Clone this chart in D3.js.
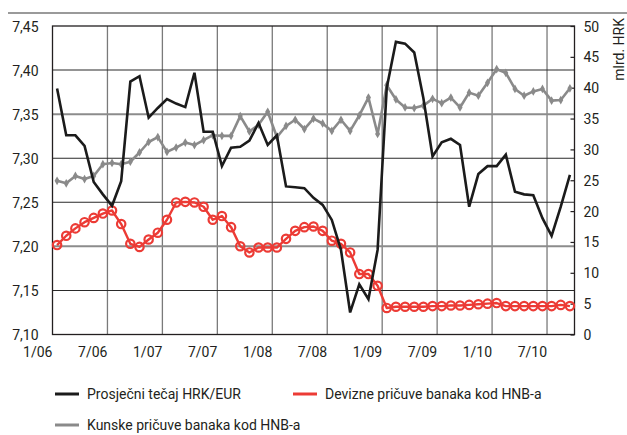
<!DOCTYPE html>
<html>
<head>
<meta charset="utf-8">
<script src="https://cdn.jsdelivr.net/npm/d3@7"></script>
<style>
  html, body { margin: 0; padding: 0; background: #fff; }
  svg { display: block; }
  text { font-family: "Roboto", "Liberation Sans", sans-serif; fill: #231f20; }
</style>
</head>
<body>
<svg id="chart" width="627" height="435"></svg>
<script>
// ---- data ----
const months = [
  "1/06","2/06","3/06","4/06","5/06","6/06","7/06","8/06","9/06","10/06","11/06","12/06",
  "1/07","2/07","3/07","4/07","5/07","6/07","7/07","8/07","9/07","10/07","11/07","12/07",
  "1/08","2/08","3/08","4/08","5/08","6/08","7/08","8/08","9/08","10/08","11/08","12/08",
  "1/09","2/09","3/09","4/09","5/09","6/09","7/09","8/09","9/09","10/09","11/09","12/09",
  "1/10","2/10","3/10","4/10","5/10","6/10","7/10","8/10","9/10"
];
const tickLabels = ["1/06","7/06","1/07","7/07","1/08","7/08","1/09","7/09","1/10","7/10"];
const leftTicks = [7.10, 7.15, 7.20, 7.25, 7.30, 7.35, 7.40, 7.45];
const rightTicks = [0, 5, 10, 15, 20, 25, 30, 35, 40, 45, 50];

// Prosječni tečaj HRK/EUR (left axis)
const tecaj = [
  7.379, 7.326, 7.326, 7.314, 7.273, 7.259, 7.246, 7.274, 7.387, 7.393, 7.346, 7.357,
  7.367, 7.362, 7.358, 7.397, 7.330, 7.330, 7.291, 7.312, 7.313, 7.320, 7.340, 7.315,
  7.326, 7.268, 7.267, 7.266, 7.255, 7.247, 7.230, 7.196, 7.125, 7.157, 7.140, 7.196,
  7.380, 7.432, 7.430, 7.420, 7.368, 7.302, 7.318, 7.322, 7.315, 7.245, 7.282, 7.291,
  7.291, 7.304, 7.262, 7.259, 7.258, 7.232, 7.212, 7.245, 7.281
];
// Devizne pričuve banaka kod HNB-a (right axis, mlrd. HRK)
const devizne = [
  14.5, 16.0, 17.2, 18.2, 18.9, 19.6, 20.1, 17.9, 14.7, 14.2, 15.4, 16.5,
  18.6, 21.4, 21.5, 21.4, 20.7, 18.6, 19.2, 17.4, 14.3, 13.3, 14.1, 14.1,
  14.1, 15.5, 16.8, 17.4, 17.5, 16.8, 15.2, 14.7, 13.3, 9.8, 9.8, 7.9,
  4.3, 4.5, 4.5, 4.5, 4.5, 4.6, 4.6, 4.7, 4.7, 4.8, 4.9, 5.0,
  5.1, 4.6, 4.6, 4.6, 4.6, 4.6, 4.6, 4.8, 4.6
];
// Kunske pričuve banaka kod HNB-a (right axis, mlrd. HRK)
const kunske = [
  24.9, 24.5, 25.7, 25.2, 25.7, 27.6, 27.8, 27.6, 28.0, 29.5, 31.2, 32.0,
  29.6, 30.3, 31.1, 30.7, 31.5, 32.3, 32.2, 32.2, 35.4, 32.9, 34.0, 36.1,
  32.0, 33.8, 34.8, 33.3, 35.0, 34.2, 33.0, 34.8, 33.0, 35.5, 38.4, 32.5,
  40.4, 38.1, 36.8, 36.7, 37.1, 38.2, 37.5, 38.4, 36.8, 39.2, 38.7, 40.8,
  43.0, 42.4, 39.8, 38.7, 39.4, 39.8, 37.9, 38.0, 39.9
];
const seriesNames = ["Prosječni tečaj HRK/EUR", "Devizne pričuve banaka kod HNB-a", "Kunske pričuve banaka kod HNB-a"];
const colors = { black: "#1b1b1b", red: "#ec3b35", gray: "#8a8a8a" };

// ---- layout ----
const svg = d3.select("#chart");
const L = 52.5, R = 574.5, T = 26, B = 334.5;

const x = d3.scaleBand().domain(months).range([L, R]).padding(0);
const cx = m => x(m) + x.bandwidth() / 2;
const yL = d3.scaleLinear().domain([7.10, 7.45]).range([B, T]);
const yR = d3.scaleLinear().domain([0, 50]).range([B, T]);

// top separator line
svg.append("line").attr("x1", 8).attr("x2", 627).attr("y1", 13).attr("y2", 13)
  .attr("stroke", "#9a9a9a").attr("stroke-width", 2.2);

// vertical gridlines
svg.append("g").selectAll("line").data(tickLabels.slice(1)).join("line")
  .attr("x1", d => x(d)).attr("x2", d => x(d)).attr("y1", T).attr("y2", B)
  .attr("stroke", "#7a7a7a").attr("stroke-width", 1.3);

// horizontal gridlines
const grayLines = [7.35, 7.20];
const isGray = d => grayLines.some(g => Math.abs(g - d) < 1e-6);
svg.append("g").selectAll("line").data(leftTicks.slice(1, -1)).join("line")
  .attr("x1", L).attr("x2", R).attr("y1", d => yL(d)).attr("y2", d => yL(d))
  .attr("stroke", d => isGray(d) ? "#8c8c8c" : "#2a2a2a")
  .attr("stroke-width", d => isGray(d) ? 2 : 1.1);

// frame
svg.append("rect").attr("x", L).attr("y", T).attr("width", R - L).attr("height", B - T)
  .attr("fill", "none").attr("stroke", "#231f20").attr("stroke-width", 1.3);

// left axis
const axL = svg.append("g").attr("transform", `translate(${L},0)`)
  .call(d3.axisLeft(yL).tickValues(leftTicks).tickSize(0).tickPadding(14)
    .tickFormat(d => d3.format(".2f")(d).replace(".", ",")));
axL.select(".domain").remove();
axL.selectAll("text").attr("font-size", 14).attr("dy", "0.36em");

// right axis
const axR = svg.append("g").attr("transform", `translate(${R},0)`)
  .call(d3.axisRight(yR).tickValues(rightTicks).tickSize(-4).tickPadding(9));
axR.select(".domain").remove();
axR.selectAll("line").attr("stroke", "#231f20").attr("stroke-width", 1.2);
axR.selectAll("text").attr("font-size", 14).attr("dy", "0.36em");

// bottom axis labels (right-aligned at gridlines)
const axB = svg.append("g").attr("transform", `translate(0,${B})`)
  .call(d3.axisBottom(x).tickValues(tickLabels).tickSize(0).tickPadding(13));
axB.select(".domain").remove();
axB.selectAll(".tick").attr("transform", d => `translate(${x(d)},0)`);
axB.selectAll("text").attr("font-size", 14).attr("text-anchor", "end").attr("x", 0);

// right axis title
svg.append("text").attr("transform", "translate(624,18) rotate(-90)")
  .attr("text-anchor", "end").attr("font-size", 14).text("mlrd. HRK");

// ---- series ----
const lineR = d3.line().x((d, i) => cx(months[i])).y(d => yR(d));
const lineL = d3.line().x((d, i) => cx(months[i])).y(d => yL(d));

// kunske (gray with diamonds)
svg.append("path").datum(kunske).attr("d", lineR).attr("fill", "none")
  .attr("stroke", colors.gray).attr("stroke-width", 2.6).attr("stroke-linejoin", "round");
svg.append("g").selectAll("path").data(kunske).join("path")
  .attr("d", d3.symbol(d3.symbolDiamond, 22))
  .attr("transform", (d, i) => `translate(${cx(months[i])},${yR(d)})`)
  .attr("fill", colors.gray);

// devizne (red with hollow circles)
svg.append("path").datum(devizne).attr("d", lineR).attr("fill", "none")
  .attr("stroke", colors.red).attr("stroke-width", 2.4).attr("stroke-linejoin", "round");
svg.append("g").selectAll("circle").data(devizne).join("circle")
  .attr("cx", (d, i) => cx(months[i])).attr("cy", d => yR(d)).attr("r", 4.2)
  .attr("fill", "none").attr("stroke", colors.red).attr("stroke-width", 2.2);

// tecaj (black)
svg.append("path").datum(tecaj).attr("d", lineL).attr("fill", "none")
  .attr("stroke", colors.black).attr("stroke-width", 2.6).attr("stroke-linejoin", "miter");

// ---- legend ----
const legend = [
  { name: seriesNames[0], color: colors.black, x: 55, y: 394 },
  { name: seriesNames[1], color: colors.red, x: 293, y: 394 },
  { name: seriesNames[2], color: colors.gray, x: 55, y: 425 }
];
const lg = svg.append("g").selectAll("g").data(legend).join("g")
  .attr("transform", d => `translate(${d.x},${d.y})`);
lg.append("line").attr("x1", 0).attr("x2", 24).attr("y1", 0).attr("y2", 0)
  .attr("stroke", d => d.color).attr("stroke-width", 3);
lg.append("text").attr("x", 32).attr("dy", "0.36em").attr("font-size", 14).text(d => d.name);
</script>
</body>
</html>
